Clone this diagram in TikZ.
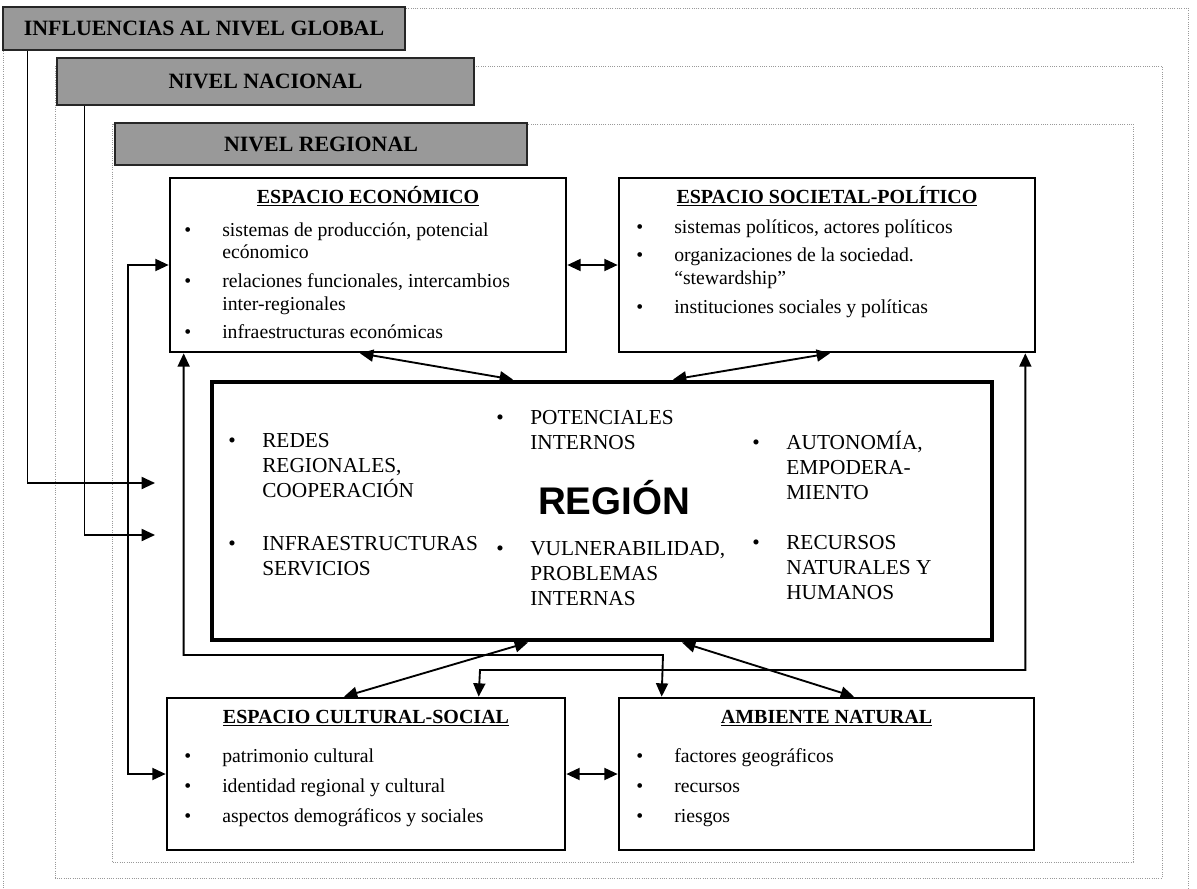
\documentclass[tikz,border=0pt]{standalone}
\usepackage{fontspec}
\setmainfont{Liberation Serif}
\newfontfamily\fuenteregion{Liberation Sans}
\usepackage{array}
\usepackage{tikz}
\usetikzlibrary{calc}
\usetikzlibrary{arrows.meta}
\tikzset{ espacio_caja/.style = {rectangle, draw, line width=2pt, inner sep=0pt} }
\tikzset{ region_caja/.style = {rectangle, draw, line width=3.7pt, inner sep=0pt} }
\tikzset{ nivel_etiqueta/.style = {rectangle, draw=black!85, line width=2.2pt, fill=black!40, inner sep=0pt, font=\fontsize{16.4}{19}\selectfont\bfseries} }
\tikzset{ marco/.style = {draw=black!40, line width=0.7pt, densely dotted} }
\tikzset{ titulo/.style = {anchor=base, inner sep=0pt, font=\fontsize{15}{17}\selectfont\bfseries} }
\tikzset{ lista/.style = {anchor=base west, inner sep=0pt, font=\fontsize{14.8}{17}\selectfont} }
\tikzset{ lista_region/.style = {anchor=base west, inner sep=0pt, font=\fontsize{16}{18.75}\selectfont} }
\tikzset{ flecha/.style = {line width=1.4pt, -{Triangle[length=10pt,width=9pt]}} }
\tikzset{ flecha_doble/.style = {line width=1.4pt, {Triangle[length=10pt,width=9pt]}-{Triangle[length=10pt,width=9pt]}} }

\begin{document}
\begin{tikzpicture}[x=0.75pt, y=-0.75pt]
    \fill[white] (0,0) rectangle (1197,889);
    \useasboundingbox (0,0) rectangle (1197,889);

    % marcos de los niveles
    \draw[marco] (3,8) rectangle (1188,895);
    \draw[marco] (55,66) rectangle (1162,878);
    \draw[marco] (112,124) rectangle (1133,862);

    \node[nivel_etiqueta, minimum width=301.5pt, minimum height=32.25pt] (global) at (204,28.5) {INFLUENCIAS AL NIVEL GLOBAL};
    \node[nivel_etiqueta, minimum width=312.75pt, minimum height=35.25pt] (nacional) at (265.5,81.5) {NIVEL NACIONAL};
    \node[nivel_etiqueta, minimum width=309pt, minimum height=31.5pt] (regional) at (321,144) {NIVEL REGIONAL};

    % espacios
    \node[espacio_caja, minimum width=297pt, minimum height=130.5pt] (econ) at (368,265) {};
    \node[espacio_caja, minimum width=312pt, minimum height=130.5pt] (soc) at (827,265) {};
    \node[region_caja, minimum width=585pt, minimum height=193.5pt] (region) at (602,511) {};
    \node[espacio_caja, minimum width=298.5pt, minimum height=114pt] (cult) at (366,774) {};
    \node[espacio_caja, minimum width=311.25pt, minimum height=114pt] (amb) at (826.5,774) {};

    \node[titulo] (econ_t) at ($(econ.north)+(0,27)$) {\underline{ESPACIO ECONÓMICO}};
    \node[lista] (econ_l) at (184,236) {\begin{tabular}[t]{@{}p{28.5pt}@{}l@{}}
        \textbullet & sistemas de producción, potencial\\
                    & ecónomico\\[4.5pt]
        \textbullet & relaciones funcionales, intercambios\\
                    & inter-regionales\\[4.5pt]
        \textbullet & infraestructuras económicas
    \end{tabular}};

    \node[titulo] (soc_t) at ($(soc.north)+(0,27)$) {\underline{ESPACIO SOCIETAL-POLÍTICO}};
    \node[lista] (soc_l) at (636,233) {\begin{tabular}[t]{@{}p{28.5pt}@{}l@{}}
        \textbullet & sistemas políticos, actores políticos\\[4.5pt]
        \textbullet & organizaciones de la sociedad.\\
                    & “stewardship”\\[4.5pt]
        \textbullet & instituciones sociales y políticas
    \end{tabular}};

    \node[titulo] (cult_t) at ($(cult.north)+(0,27)$) {\underline{ESPACIO CULTURAL-SOCIAL}};
    \node[lista] (cult_l) at (184,762) {\begin{tabular}[t]{@{}p{28.5pt}@{}l@{}}
        \textbullet & patrimonio cultural\\[5.5pt]
        \textbullet & identidad regional y cultural\\[5.5pt]
        \textbullet & aspectos demográficos y sociales
    \end{tabular}};

    \node[titulo] (amb_t) at ($(amb.north)+(0,27)$) {\underline{AMBIENTE NATURAL}};
    \node[lista] (amb_l) at (636,762) {\begin{tabular}[t]{@{}p{28.5pt}@{}l@{}}
        \textbullet & factores geográficos\\[5.5pt]
        \textbullet & recursos\\[5.5pt]
        \textbullet & riesgos
    \end{tabular}};

    % region
    \node[anchor=base, inner sep=0pt, font=\fuenteregion\fontsize{28.9}{30}\selectfont\bfseries] (region_t) at (614,514) {REGIÓN};
    \node[lista_region] (r_redes) at (228,447) {\begin{tabular}[t]{@{}p{25.5pt}@{}l@{}}
        \textbullet & REDES\\ & REGIONALES,\\ & COOPERACIÓN\end{tabular}};
    \node[lista_region] (r_infra) at (228,550) {\begin{tabular}[t]{@{}p{25.5pt}@{}l@{}}
        \textbullet & INFRAESTRUCTURAS\\ & SERVICIOS\end{tabular}};
    \node[lista_region] (r_pot) at (496,424) {\begin{tabular}[t]{@{}p{25.5pt}@{}l@{}}
        \textbullet & POTENCIALES\\ & INTERNOS\end{tabular}};
    \node[lista_region] (r_vul) at (496,555) {\begin{tabular}[t]{@{}p{25.5pt}@{}l@{}}
        \textbullet & VULNERABILIDAD,\\ & PROBLEMAS\\ & INTERNAS\end{tabular}};
    \node[lista_region] (r_aut) at (752,449) {\begin{tabular}[t]{@{}p{25.5pt}@{}l@{}}
        \textbullet & AUTONOMÍA,\\ & EMPODERA-\\ & MIENTO\end{tabular}};
    \node[lista_region] (r_rec) at (752,549) {\begin{tabular}[t]{@{}p{25.5pt}@{}l@{}}
        \textbullet & RECURSOS\\ & NATURALES Y\\ & HUMANOS\end{tabular}};

    % influencias de los niveles
    \coordinate (global_fin) at (155,483);
    \coordinate (nacional_fin) at (155,535);
    \draw[flecha] ($(global.south west)+(26,0)$) |- (global_fin);
    \draw[flecha] ($(nacional.south west)+(29,0)$) |- (nacional_fin);

    % relaciones entre espacios
    \draw[flecha_doble] (econ.east) -- (soc.west);
    \draw[flecha_doble] (cult.east) -- (amb.west);
    \coordinate (lazo) at (128,500);
    \draw[flecha_doble] (econ.west) -| (lazo) |- (cult.west);

    \draw[flecha_doble] ($(econ.south)+(-8,0)$) -- ($(region.north)+(-89,0)$);
    \draw[flecha_doble] ($(soc.south)+(3,0)$) -- ($(region.north)+(71,0)$);
    \draw[flecha_doble] ($(cult.north)+(-22,0)$) -- ($(region.south)+(-74,0)$);
    \draw[flecha_doble] ($(amb.north)+(27.5,0)$) -- ($(region.south)+(80,0)$);

    \coordinate (codo_a) at (663,655);
    \coordinate (codo_b) at (480,670);
    \draw[flecha_doble] ($(econ.south west)+(15,0)$) |- (codo_a) -- ($(amb.north west)+(44,0)$);
    \draw[flecha_doble] ($(soc.south east)+(-11,0)$) |- (codo_b) -- ($(cult.north west)+(313,0)$);
\end{tikzpicture}
\end{document}
